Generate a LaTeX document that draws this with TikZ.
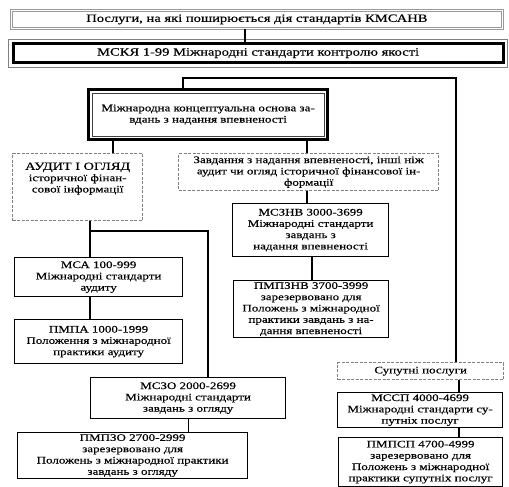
\documentclass[tikz,border=0pt]{standalone}
\usepackage{fontspec}
\setmainfont{Liberation Serif}[FakeStretch=1.3,FakeBold=0.4]
\tikzset{
  box/.style={draw, line width=1.2pt, align=center, inner sep=1pt, anchor=north west,
    font=\fontsize{10}{11.3}\selectfont},
  dbox/.style={box, draw=gray, line width=1.3pt, dash pattern=on 3pt off 1.5pt},
  tbox/.style={box, line width=3.2pt},
  inner/.style={line width=0.9pt, draw=black!75},
  conn/.style={line width=1.2pt},
}
\begin{document}
\begin{tikzpicture}[x=1pt,y=-1pt]
\useasboundingbox (0,0) rectangle (509,487);
\node[box, draw=gray!80, double, double distance=1.5pt, line width=0.8pt, minimum width=491pt, minimum height=18pt, font=\fontsize{11.2}{12}\selectfont] (top) at (11,10) {Послуги, на які поширюється дія стандартів КМСАНВ};
\node[tbox, minimum width=490pt, minimum height=19pt, font=\fontsize{11.2}{12}\selectfont] (mcky) at (11.5,42) {МСКЯ 1-99 Міжнародні стандарти контролю якості};
\node[tbox, minimum width=239pt, minimum height=50pt] (concept) at (87,88) {Міжнародна концептуальна основа за-\\вдань з надання впевненості};
\node[dbox, minimum width=130pt, minimum height=67pt] (audit) at (12,153) {{\fontsize{11}{12}\selectfont АУДИТ І ОГЛЯД}\\історичної фінан-\\сової інформації\\[8pt]};
\node[dbox, minimum width=260pt, minimum height=37pt] (zavd) at (178,153) {Завдання з надання впевненості, інші ніж\\аудит чи огляд історичної фінансової ін-\\формації};
\node[box, minimum width=156pt, minimum height=53pt] (mcznv) at (232,203) {МСЗНВ 3000-3699\\Міжнародні стандарти\\завдань з\\надання впевненості};
\node[box, minimum width=155pt, minimum height=57pt] (pmpznv) at (233,280) {ПМПЗНВ 3700-3999\\зарезервовано для\\Положень з міжнародної\\практики завдань з на-\\дання впевненості};
\node[box, minimum width=168pt, minimum height=39pt] (mca) at (14,257) {МСА 100-999\\Міжнародні стандарти\\аудиту};
\node[box, minimum width=168pt, minimum height=44pt] (pmpa) at (14,319) {ПМПА 1000-1999\\Положення з міжнародної\\практики аудиту};
\node[box, minimum width=195pt, minimum height=41pt] (mczo) at (90,377) {МСЗО 2000-2699\\Міжнародні стандарти\\завдань з огляду};
\node[box, minimum width=230pt, minimum height=46pt] (pmpzo) at (17,432) {ПМПЗО 2700-2999\\зарезервовано для\\Положень з міжнародної практики\\завдань з огляду};
\node[dbox, minimum width=166pt, minimum height=17pt] (sup) at (337,362) {Супутні послуги};
\node[box, minimum width=165pt, minimum height=35pt] (mcsp) at (337,392) {МССП 4000-4699\\Міжнародні стандарти су-\\путніх послуг};
\node[box, minimum width=164pt, minimum height=49pt] (pmpsp) at (338,437) {ПМПСП 4700-4999\\зарезервовано для\\Положень з міжнародної\\практики супутніх послуг};
\draw[inner, draw=gray] ([shift={(-3,-3)}]mcky.north west) rectangle ([shift={(3,3)}]mcky.south east);
\draw[inner] ([shift={(5,5)}]concept.north west) rectangle ([shift={(-5,-5)}]concept.south east);
\coordinate (tc) at (245,0);
\coordinate (bl) at (183,78);
\coordinate (br) at (456,78);
\coordinate (ca) at (113,0);
\coordinate (cz) at (307,0);
\coordinate (am) at (90,0);
\coordinate (aj) at (90,231);
\coordinate (az) at (208,231);
\coordinate (zm) at (312,0);
\coordinate (sx) at (459,0);
\draw[conn] (tc |- top.south) -- (tc |- mcky.north);
\draw[conn] (bl |- concept.north) -- (bl) -- (br) -- (br |- sup.north);
\draw[conn] (ca |- concept.south) -- (ca |- audit.north);
\draw[conn] (cz |- concept.south) -- (cz |- zavd.north);
\draw[conn] (cz |- zavd.south) -- (cz |- mcznv.north);
\draw[conn] (zm |- mcznv.south) -- (zm |- pmpznv.north);
\draw[conn] (am |- audit.south) -- (am |- mca.north);
\draw[conn] (aj) -- (az) -- (az |- mczo.north);
\draw[conn] (am |- mca.south) -- (am |- pmpa.north);
\draw[conn] (mczo.south) -- (mczo.south |- pmpzo.north);
\draw[conn] (sx |- sup.south) -- (sx |- mcsp.north);
\draw[conn] (sx |- mcsp.south) -- (sx |- pmpsp.north);
\end{tikzpicture}
\end{document}
